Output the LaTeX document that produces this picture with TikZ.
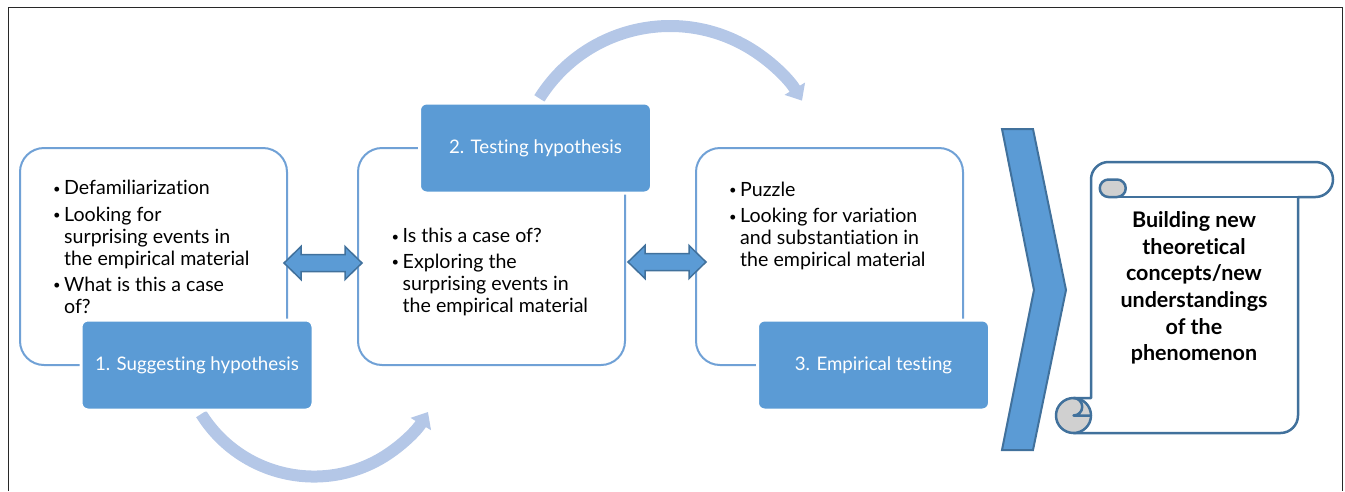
\documentclass[tikz,border=0pt]{standalone}
\usepackage{fontspec}
\setmainfont{Lato}[Ligatures={NoCommon,NoRequired,NoContextual}]
\usetikzlibrary{calc,arrows.meta}
\definecolor{boxline}{RGB}{112,161,214}
\definecolor{labblue}{RGB}{91,155,213}
\definecolor{darkblue}{RGB}{65,113,156}
\definecolor{pale}{RGB}{180,199,231}
\definecolor{curlgray}{RGB}{208,208,208}
\definecolor{framegray}{RGB}{40,40,40}
\newcommand\bt{\makebox[12pt][l]{\hspace{1pt}\raisebox{1.2pt}{\fontsize{13}{13}\selectfont\textbullet}}}
\newcommand\ind{\hspace*{12pt}}
\begin{document}
\begin{tikzpicture}[x=1pt,y=-1pt,
  box/.style={draw=boxline, line width=2pt, fill=white, rounded corners=24pt,
    minimum width=267pt, minimum height=217pt, inner sep=0pt},
  lab/.style={draw=white, line width=3pt, fill=labblue, rounded corners=7pt,
    minimum width=232pt, minimum height=90pt, inner sep=0pt, text=white,
    font=\fontsize{18.7}{24}\selectfont},
  body/.style={font=\fontsize{19.6}{22}\selectfont, align=left, inner sep=0pt, anchor=base west},
  dbl/.style={fill=labblue, draw=darkblue, line width=1.5pt, line join=miter},
  curv/.style={draw=pale, line width=12pt, -{Triangle[length=14pt,width=23pt]}},
  scroll/.style={draw=darkblue, line width=2.5pt, line join=round}]
\useasboundingbox (0,0) rectangle (1345,491);

% outer frame, open at the bottom
\draw[framegray, line width=1.8pt] (8.5,491) -- (8.5,7.5) -- (1342.5,7.5) -- (1342.5,491);

% step boxes
\node[box] (b1) at (153.5,256.5) {};
\node[box] (b2) at (491.5,256.5) {};
\node[box] (b3) at (829.5,256.5) {};

% curved arrows between the steps
\draw[curv] ($(b1.south)+(47.7,48)$) arc[start angle=148, end angle=31, radius=133];
\draw[curv] ($(b2.north)+(47.9,-48.6)$) arc[start angle=212, end angle=329, radius=154];

% step titles
\node[lab] (l1) at (197,365) {1. Suggesting hypothesis};
\node[lab] (l2) at (535.5,148) {2. Testing hypothesis};
\node[lab] (l3) at (873.5,365) {3. Empirical testing};

% box contents (anchored at the baseline of the last line)
\node[body] (t1) at (52,313) {\bt Defamiliarization\\[4.7pt]
  \bt Looking for\\ \ind surprising events in\\ \ind the empirical material\\[4pt]
  \bt What is this a case\\ \ind of?};
\node[body] (t2) at (390.5,312) {\bt Is this a case of?\\[3.6pt]
  \bt Exploring the\\ \ind surprising events in\\ \ind the empirical material};
\node[body] (t3) at (728,266.7) {\bt Puzzle\\[4.7pt]
  \bt Looking for variation\\ \ind and substantiation in\\ \ind the empirical material};

% double arrows linking the boxes
\draw[dbl] ($(b1.east)+(-4,6.5)$) -- ++(17,-16.5) -- ++(0,8) -- ++(44,0) -- ++(0,-8)
  -- ++(17,16.5) -- ++(-17,16.5) -- ++(0,-8) -- ++(-44,0) -- ++(0,8) -- cycle;
\draw[dbl] ($(b2.east)+(2,5.5)$) -- ++(17,-16.5) -- ++(0,8) -- ++(44,0) -- ++(0,-8)
  -- ++(17,16.5) -- ++(-17,16.5) -- ++(0,-8) -- ++(-44,0) -- ++(0,8) -- cycle;

% chevron
\draw[fill=labblue, draw=darkblue, line width=2pt, line join=miter]
  (1002,129) -- (1033,129) -- (1066,290) -- (1033,450) -- (1002,450) -- (1034,290) -- cycle;

% scroll
\draw[scroll, fill=white] (1073.5,433) -- (1073.5,398) -- (1091,398) -- (1091,179.5)
  arc[start angle=180, end angle=270, radius=17.5] -- (1315.5,162)
  arc[start angle=270, end angle=450, radius=17.5] -- (1298,197) -- (1298,415.5)
  arc[start angle=0, end angle=90, radius=17.5] -- cycle;
\draw[scroll] (1117,197) -- (1298,197);
\draw[scroll, fill=curlgray] (1108.5,179.5) -- (1117,179.5)
  arc[start angle=270, end angle=450, radius=8.75] -- (1108.5,197)
  arc[start angle=90, end angle=270, radius=8.75] -- cycle;
\draw[scroll, fill=curlgray] (1073.5,415.5) circle[radius=17.5];
\draw[scroll] (1073.5,398) -- (1091,398);
\draw[scroll] (1073.5,398) arc[start angle=270, end angle=450, radius=8.75] -- (1091,415.5);
\node[font=\fontsize{21.5}{26.6}\selectfont\bfseries, align=center, inner sep=0pt] (goal) at (1194,288)
  {Building new\\ theoretical\\ concepts/new\\ understandings\\ of the\\ phenomenon};
\end{tikzpicture}
\end{document}
